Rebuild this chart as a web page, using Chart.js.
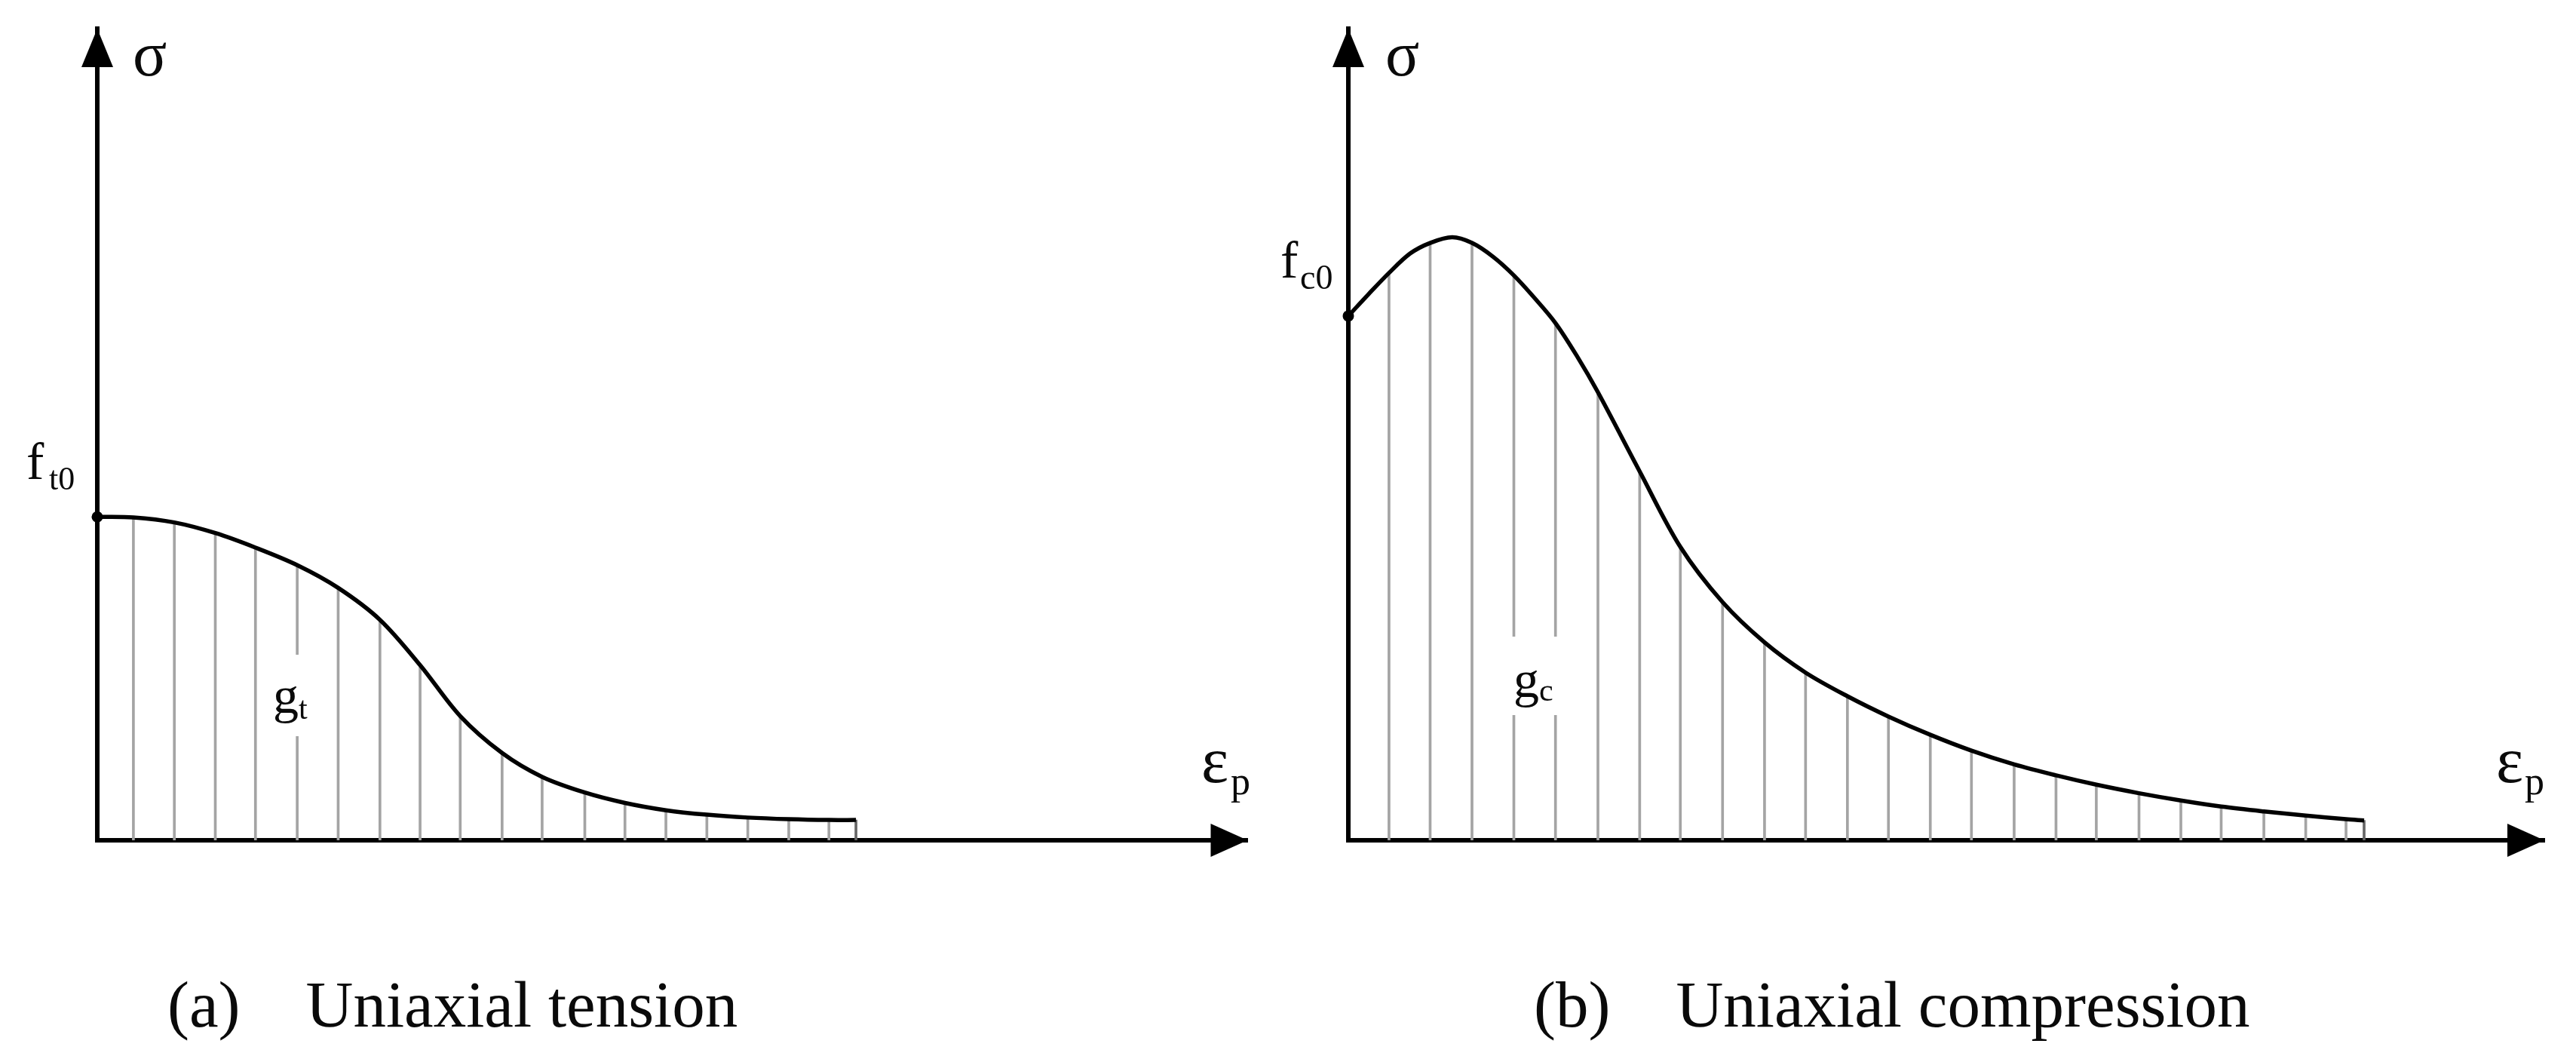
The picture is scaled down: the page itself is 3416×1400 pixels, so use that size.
<!DOCTYPE html>
<html>
<head>
<meta charset="utf-8">
<script src="https://cdn.jsdelivr.net/npm/chart.js@4"></script>
<style>
  html, body { margin: 0; background: #fff; }
  canvas { position: absolute; top: 0; filter: blur(0.6px); }
</style>
</head>
<body>
<canvas id="chart-tension" width="1662" height="1400" style="left:0"></canvas>
<canvas id="chart-compression" width="1754" height="1400" style="left:1662px"></canvas>
<script>
// values, both axes normalised to 0-100 (axis tip = 100)
const strainT = [0, 3.14, 6.70, 10.26, 13.75, 17.38, 20.94, 24.57, 28.06, 31.55, 35.19, 38.67, 42.38, 45.87, 49.43, 52.99, 56.55, 60.11, 63.60, 65.95];
const stressT = [39.85, 39.78, 39.16, 37.85, 36.06, 33.90, 31.10, 27.17, 21.59, 15.30, 10.75, 7.81, 5.88, 4.60, 3.70, 3.15, 2.80, 2.60, 2.50, 2.50];
const hatchT = strainT.slice(1);

const strainC = [0, 1.70, 3.40, 5.17, 6.84, 8.69, 10.34, 12.10, 13.84, 15.58, 17.32, 19.10, 20.87, 24.36, 27.76, 31.29, 34.80, 38.23, 41.73, 45.16, 48.66, 52.10, 55.67, 59.17, 62.54, 66.11, 69.61, 72.98, 76.55, 80.05, 83.42, 84.93];
const stressC = [64.60, 67.30, 69.90, 72.30, 73.60, 74.30, 73.60, 71.90, 69.60, 66.80, 63.73, 59.70, 55.20, 45.45, 36.15, 29.34, 24.38, 20.66, 17.75, 15.25, 13.00, 11.05, 9.35, 8.00, 6.85, 5.80, 4.90, 4.15, 3.55, 3.05, 2.60, 2.45];
const hatchC = [3.40, 6.84, 10.34, 13.84, 17.32, 20.87, 24.36, 27.76, 31.29, 34.80, 38.23, 41.73, 45.16, 48.66, 52.10, 55.67, 59.17, 62.54, 66.11, 69.61, 72.98, 76.55, 80.05, 83.42, 84.93];

const INK = '#000';
const HATCH = '#a4a4a4';
const SERIF = '"Liberation Serif", "Times New Roman", serif';

// ─── axis arrowheads and the hand-placed labels ──────────────────────────────
const sketchPlugin = {
  id: 'sketch',
  afterDraw(chart, args, opts) {
    const { ctx, chartArea: a } = chart;
    ctx.save();
    ctx.fillStyle = INK;
    ctx.beginPath();
    ctx.moveTo(a.left, a.top);
    ctx.lineTo(a.left - 21, a.top + 51);
    ctx.lineTo(a.left + 21, a.top + 51);
    ctx.closePath();
    ctx.fill();
    ctx.beginPath();
    ctx.moveTo(a.right, a.bottom);
    ctx.lineTo(a.right - 49, a.bottom - 22);
    ctx.lineTo(a.right - 49, a.bottom + 22);
    ctx.closePath();
    ctx.fill();

    ctx.textBaseline = 'alphabetic';
    ctx.textAlign = 'left';
    // white patch that interrupts the hatching behind the area label
    ctx.fillStyle = '#fff';
    const m = opts.mask;
    ctx.fillRect(m[0] - opts.left, m[1], m[2], m[3]);
    ctx.fillStyle = '#0a0a0a';
    opts.labels.forEach(l => {
      ctx.font = `${l.size}px ${SERIF}`;
      ctx.fillText(l.text, l.x - opts.left, l.y);
    });
    ctx.restore();
  },
};

function renderPanel(id, left, area, strain, stress, hatch, mask, labels) {
  const canvas = document.getElementById(id);
  return new Chart(canvas, {
    type: 'line',
    data: {
      datasets: [
        {
          type: 'line',
          data: strain.slice(0, 1).map((x, i) => ({ x, y: stress[i] })),
          showLine: false,
          pointRadius: 7.5,
          pointBackgroundColor: INK,
          pointBorderWidth: 0,
          clip: false,
          order: 0,
        },
        {
          type: 'line',
          data: strain.map((x, i) => ({ x, y: stress[i] })),
          borderColor: INK,
          borderWidth: 5.5,
          tension: 0.33,
          pointRadius: 0,
          order: 1,
        },
        {
          type: 'bar',
          data: hatch.map(x => ({ x, y: stress[strain.indexOf(x)] })),
          backgroundColor: hatch.map((x, i) => i === hatch.length - 1 ? '#666' : HATCH),
          barThickness: 3,
          order: 2,
        },
      ],
    },
    options: {
      responsive: false,
      devicePixelRatio: 1,
      animation: false,
      layout: {
        padding: { left: area.left - left, right: canvas.width - (area.right - left), top: area.top, bottom: 1400 - area.bottom },
      },
      plugins: {
        legend: { display: false },
        tooltip: { enabled: false },
        sketch: { left, mask, labels },
      },
      scales: {
        x: {
          type: 'linear', min: 0, max: 100, offset: false,
          grid: { display: false, drawTicks: false },
          ticks: { display: false },
          border: { color: INK, width: 6 },
          afterFit: s => { s.height = 0; },
        },
        y: {
          min: 0, max: 100,
          grid: { display: false, drawTicks: false },
          ticks: { display: false },
          border: { color: INK, width: 6 },
          afterFit: s => { s.width = 0; },
        },
      },
    },
    plugins: [sketchPlugin],
  });
}

renderPanel('chart-tension', 0, { left: 129, right: 1659, top: 38, bottom: 1114 },
  strainT, stressT, hatchT, [378, 868, 36, 108], [
    { text: 'σ', x: 176, y: 100, size: 84 },
    { text: 'f', x: 35, y: 635, size: 70 },
    { text: 't0', x: 65, y: 649, size: 44 },
    { text: 'g', x: 362, y: 945, size: 68 },
    { text: 't', x: 396, y: 953, size: 42 },
    { text: 'ε', x: 1593, y: 1037, size: 86 },
    { text: 'p', x: 1632, y: 1053, size: 52 },
    { text: '(a)    Uniaxial tension', x: 222, y: 1361, size: 87 },
  ]);

renderPanel('chart-compression', 1662, { left: 1788, right: 3374, top: 38, bottom: 1114 },
  strainC, stressC, hatchC, [2000, 844, 70, 104], [
    { text: 'σ', x: 1837, y: 100, size: 84 },
    { text: 'f', x: 1698, y: 368, size: 70 },
    { text: 'c0', x: 1724, y: 383, size: 46 },
    { text: 'g', x: 2007, y: 924, size: 68 },
    { text: 'c', x: 2041, y: 929, size: 42 },
    { text: 'ε', x: 3310, y: 1037, size: 86 },
    { text: 'p', x: 3348, y: 1053, size: 52 },
    { text: '(b)    Uniaxial compression', x: 2034, y: 1361, size: 87 },
  ]);
</script>
</body>
</html>
